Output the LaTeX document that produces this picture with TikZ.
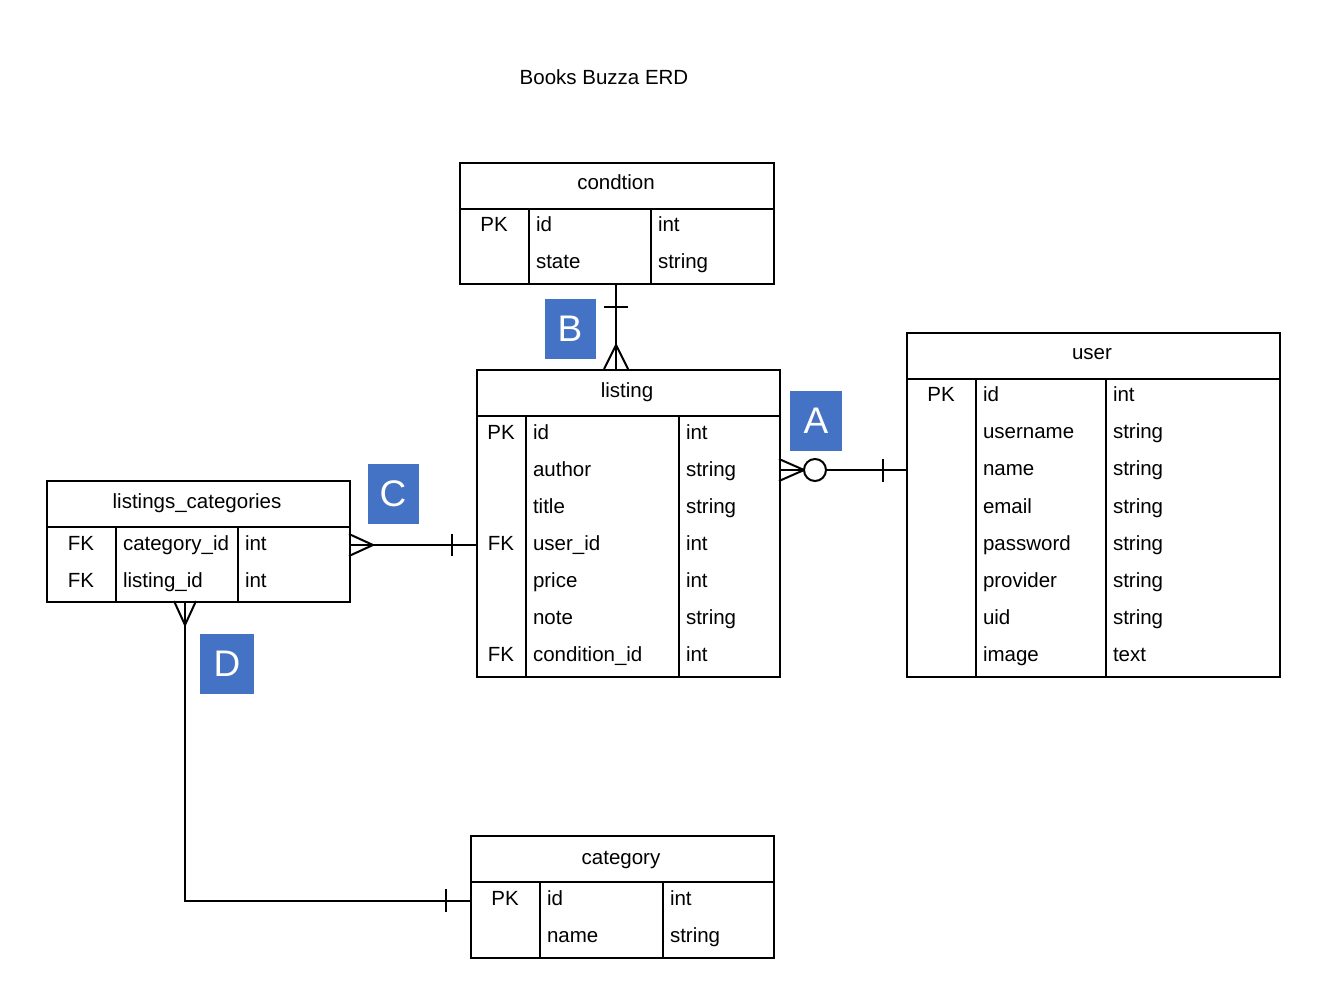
\documentclass[tikz,border=0pt]{standalone}
\usepackage{fontspec}
\setmainfont{Liberation Sans}
\definecolor{lblue}{HTML}{4472C4}
\begin{document}
\begin{tikzpicture}[x=1pt,y=-1pt,line width=2pt,
  tbl/.style={draw,line width=2pt,inner sep=0pt,anchor=north west},
  txt/.style={font=\fontsize{20.5}{24}\selectfont,inner sep=0pt,anchor=base},
  nm/.style={txt,anchor=base west},
  lbl/.style={fill=lblue,text=white,font=\fontsize{37}{40}\selectfont,inner sep=0pt,minimum width=52pt,minimum height=60pt}]
\fill[white] (0,0) rectangle (1325,1003);
\useasboundingbox (0,0) rectangle (1325,1003);

\node[txt] (title) at (604,85) {Books Buzza ERD};

% condtion
\node[tbl,minimum width=314pt,minimum height=121pt] (cond) at (459,162) {};
\draw (459,209) -- (773,209);
\draw (529,209) -- (529,283);
\draw (651,209) -- (651,283);
\node[txt] (condT) at (616,190) {condtion};
\node[txt] (condK1) at (494,232) {PK};
\node[nm] (condN1) at (535,232) {id};
\node[nm] (condY1) at (657,232) {int};
\node[nm] (condN2) at (535,269) {state};
\node[nm] (condY2) at (657,269) {string};

% listing
\node[tbl,minimum width=303pt,minimum height=307pt] (list) at (476,369) {};
\draw (476,416) -- (779,416);
\draw (526,416) -- (526,676);
\draw (679,416) -- (679,676);
\node[txt] (listT) at (627,397) {listing};
\foreach \k/\n/\t/\y [count=\i] in {PK/id/int/439,/author/string/476,/title/string/513,FK/user\_id/int/550,/price/int/587,/note/string/624,FK/condition\_id/int/661}{
  \node[txt] (listK\i) at (501,\y) {\k};
  \node[nm] (listN\i) at (532,\y) {\n};
  \node[nm] (listY\i) at (685,\y) {\t};
}

% user
\node[tbl,minimum width=373pt,minimum height=344pt] (user) at (906,332) {};
\draw (906,379) -- (1279,379);
\draw (976,379) -- (976,676);
\draw (1106,379) -- (1106,676);
\node[txt] (userT) at (1092,359) {user};
\foreach \k/\n/\t/\y [count=\i] in {PK/id/int/401,/username/string/438,/name/string/475,/email/string/513,/password/string/550,/provider/string/587,/uid/string/624,/image/text/661}{
  \node[txt] (userK\i) at (941,\y) {\k};
  \node[nm] (userN\i) at (982,\y) {\n};
  \node[nm] (userY\i) at (1112,\y) {\t};
}

% listings_categories
\node[tbl,minimum width=303pt,minimum height=121pt] (lc) at (46,480) {};
\draw (46,527) -- (349,527);
\draw (116,527) -- (116,601);
\draw (238,527) -- (238,601);
\node[txt] (lcT) at (197,508) {listings\_categories};
\foreach \k/\n/\t/\y [count=\i] in {FK/category\_id/int/550,FK/listing\_id/int/587}{
  \node[txt] (lcK\i) at (81,\y) {\k};
  \node[nm] (lcN\i) at (122,\y) {\n};
  \node[nm] (lcY\i) at (244,\y) {\t};
}

% category
\node[tbl,minimum width=303pt,minimum height=122pt] (cat) at (470,835) {};
\draw (470,882) -- (773,882);
\draw (540,882) -- (540,957);
\draw (663,882) -- (663,957);
\node[txt] (catT) at (621,864) {category};
\foreach \k/\n/\t/\y [count=\i] in {PK/id/int/905,/name/string/942}{
  \node[txt] (catK\i) at (505,\y) {\k};
  \node[nm] (catN\i) at (546,\y) {\n};
  \node[nm] (catY\i) at (669,\y) {\t};
}

% connector A: listing -- user
\coordinate (a1) at (779,470);
\coordinate (a2) at (906,470);
\draw (a1) -- (a2);
\draw (779,459) -- (804,470) -- (779,481);
\draw[fill=white] (815,470) circle (11);
\draw (883,459) -- (883,482);

% connector B: condtion -- listing
\coordinate (b1) at (616,283);
\coordinate (b2) at (616,369);
\draw (b1) -- (b2);
\draw (604,307) -- (628,307);
\draw (604,369) -- (616,345) -- (628,369);

% connector C: listings_categories -- listing
\coordinate (c1) at (349,545);
\coordinate (c2) at (476,545);
\draw (c1) -- (c2);
\draw (349,534) -- (373,545) -- (349,556);
\draw (452,534) -- (452,556);

% connector D: listings_categories -- category
\coordinate (d1) at (185,601);
\coordinate (d2) at (470,901);
\draw (d1) |- (d2);
\draw (174,601) -- (185,625) -- (196,601);
\draw (446,889) -- (446,912);

% labels
\node[lbl] (labA) at (816,421) {A};
\node[lbl,minimum width=51pt] (labB) at (570,329) {B};
\node[lbl,minimum width=51pt] (labC) at (393,494) {C};
\node[lbl,minimum width=54pt] (labD) at (227,664) {D};
\end{tikzpicture}
\end{document}
